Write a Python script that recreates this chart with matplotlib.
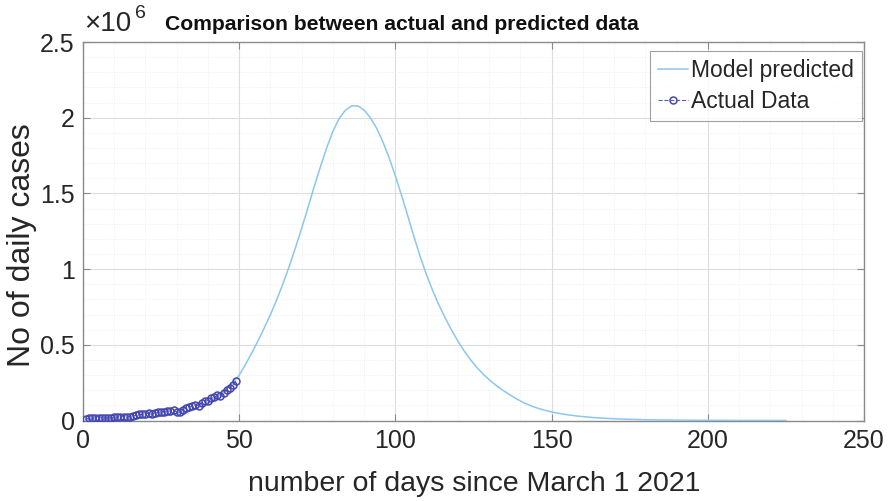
import matplotlib
matplotlib.use("Agg")
import matplotlib.pyplot as plt
from matplotlib.ticker import MultipleLocator, FuncFormatter

# Reported daily cases (days 1..49 since March 1 2021)
actual_days = list(range(1, 50))
actual_cases = [
    12300, 15500, 14900, 17400, 16800, 18300, 18700, 15400, 17900, 22900,
    23300, 24900, 24900, 26300, 24500, 28900, 35900, 39700, 40000, 43800,
    46900, 40700, 47300, 53500, 59100, 59100, 62300, 62700, 68000, 56200,
    53500, 72300, 81500, 89100, 93200, 103600, 97000, 115700, 126800, 131900,
    145400, 152900, 168900, 161700, 184400, 200700, 217400, 234700, 261500,
]

# Model-predicted daily cases
model_days = [
    0, 4, 8, 12, 16, 20, 24, 28, 32, 36, 40, 44,
    48, 50, 52, 54, 56, 58, 60, 62, 64, 66, 68, 70, 72, 74, 76, 78,
    80, 82, 84, 86, 88, 90, 92, 94, 96, 98, 100, 102, 104, 106, 108,
    110, 112, 114, 116, 118, 120, 122, 124, 126, 128, 130, 132, 134,
    136, 138, 141, 144, 147, 150, 154, 158, 163, 168, 174, 180, 190,
    200, 210, 225,
]
model_cases = [
    3000, 4000, 6000, 8000, 12000, 17000, 25000, 37000, 55000, 80000, 117000, 172000,
    250000, 300000, 370000, 445000, 525000, 610000, 700000, 797000, 903000, 1017000, 1140000, 1270000, 1405000, 1545000, 1675000, 1800000,
    1910000, 1995000, 2050000, 2078000, 2078000, 2050000, 2000000, 1930000, 1840000, 1735000, 1615000, 1485000, 1348000, 1210000, 1078000,
    960000, 855000, 760000, 675000, 597000, 525000, 460000, 402000, 352000, 308000, 270000, 236000, 205000,
    178000, 152000, 118000, 92000, 72000, 56000, 41000, 30000, 20000, 13500, 8300, 5100, 2300,
    1000, 460, 130,
]

x_ticks = [0, 50, 100, 150, 200, 250]
y_ticks = [0, 0.5e6, 1.0e6, 1.5e6, 2.0e6, 2.5e6]

plt.rcParams['font.family'] = ['Liberation Sans', 'DejaVu Sans']

W, H = 892, 501
fig = plt.figure(figsize=(W / 100, H / 100), dpi=100)
ax = fig.add_axes([83 / W, 1 - 420.5 / H, (864 - 83) / W, (420.5 - 42) / H])

ax.plot(model_days, model_cases, color='#8cc6ee', lw=1.1, label='Model predicted', zorder=3)
ax.plot(actual_days, actual_cases, linestyle='--', color='#5a5ab8', lw=0.8,
        marker='o', markersize=5, markerfacecolor='none', markeredgewidth=1.1,
        markeredgecolor='#4646b0', label='Actual Data', zorder=4)

ax.set_xlim(0, 250)
ax.set_ylim(0, 2.5e6)
ax.set_xticks(x_ticks)
ax.set_yticks(y_ticks)
ax.xaxis.set_minor_locator(MultipleLocator(10))
ax.yaxis.set_minor_locator(MultipleLocator(0.1e6))
ax.yaxis.set_major_formatter(FuncFormatter(lambda v, p: f"{v/1e6:g}"))

ax.grid(True, which='major', color='#dcdcdc', lw=0.8)
ax.grid(True, which='minor', color='#ececec', lw=0.6, linestyle=':')
ax.set_axisbelow(True)

for s in ax.spines.values():
    s.set_color('#8a8a8a')
    s.set_linewidth(1.0)
ax.tick_params(which='major', direction='in', length=5, width=0.8, color='#8a8a8a',
               top=True, right=True, labelsize=18, labelcolor='#262626', pad=6)
ax.tick_params(which='minor', length=0, top=True, right=True)

# axis labels
fig.text(474 / W, 1 - 491 / H, 'number of days since March 1 2021', fontsize=20.5,
         color='#262626', ha='center', va='baseline')
fig.text(22 / W, 1 - 245 / H, 'No of daily cases', fontsize=23, rotation=90,
         color='#262626', ha='center', va='center')

# exponent label and title
fig.text(84 / W, 1 - 31 / H, '\u00d710', fontsize=20, color='#262626',
         ha='left', va='baseline')
fig.text(135 / W, 1 - 18 / H, '6', fontsize=14, color='#262626',
         ha='left', va='baseline')
fig.text(165 / W, 1 - 30 / H, 'Comparison between actual and predicted data',
         fontsize=15.2, fontweight='bold', color='#111111', ha='left', va='baseline')

leg = ax.legend(loc='upper right', bbox_to_anchor=(862 / W, 1 - 51 / H),
                bbox_transform=fig.transFigure, fontsize=16.5, frameon=True,
                fancybox=False, edgecolor='#8a8a8a', handlelength=1.3,
                handletextpad=0.15, borderpad=0.35, labelspacing=0.35,
                borderaxespad=0)
leg.get_frame().set_linewidth(0.8)
for t in leg.get_texts():
    t.set_color('#262626')

fig.savefig('out.png', dpi=100)
